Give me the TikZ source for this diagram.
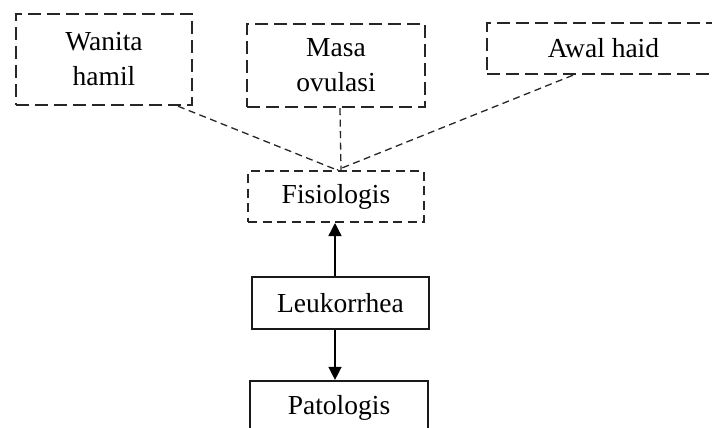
\documentclass[tikz,border=0pt]{standalone}
\usepackage{fontspec}
\setmainfont{Liberation Serif}
\usetikzlibrary{arrows.meta}
\begin{document}
\begin{tikzpicture}[x=1pt,y=-1pt,
  txt/.style={font=\fontsize{27.5}{35}\selectfont, align=center, inner sep=0pt},
  topbox/.style={txt, draw=black!85, line width=2.4pt, dash pattern=on 13pt off 6pt},
  fisbox/.style={txt, draw=black!85, line width=2pt, dash pattern=on 9pt off 5.5pt},
  solidbox/.style={txt, draw=black!90, line width=2.2pt},
  link/.style={draw=black!85, line width=1.3pt, dash pattern=on 7pt off 4.5pt},
  arr/.style={draw=black, line width=1.4pt, -{Triangle[length=13pt,width=13pt]}}]
\useasboundingbox (0,0) rectangle (712,428);
\clip (0,0) rectangle (712,428);
\node[topbox, minimum width=176pt, minimum height=91pt] (w) at (104,59.5) {Wanita\\hamil};
\node[topbox, minimum width=178pt, minimum height=83pt] (m) at (336,65.5) {Masa\\ovulasi};
\node[topbox, minimum width=233pt, minimum height=51pt] (a) at (603.5,48.5) {Awal haid};
\node[fisbox, minimum width=176pt, minimum height=51pt] (f) at (336,196.5) {Fisiologis};
\node[solidbox, minimum width=177pt, minimum height=52pt] (l) at (340.5,303) {Leukorrhea};
\node[solidbox, minimum width=178pt, minimum height=54pt] (p) at (339,408) {Patologis};
\coordinate (c) at ([xshift=1pt]f.north);
\draw[link] ([xshift=74pt]w.south) -- (c);
\draw[link] ([xshift=4pt]m.south) -- ([xshift=4pt]c);
\draw[link] ([xshift=-30.5pt]a.south) -- (c);
\draw[arr] ([xshift=-5.5pt]l.north) -- ([xshift=-1pt]f.south);
\draw[arr] ([xshift=-5.5pt]l.south) -- ([xshift=-4pt]p.north);
\end{tikzpicture}
\end{document}
